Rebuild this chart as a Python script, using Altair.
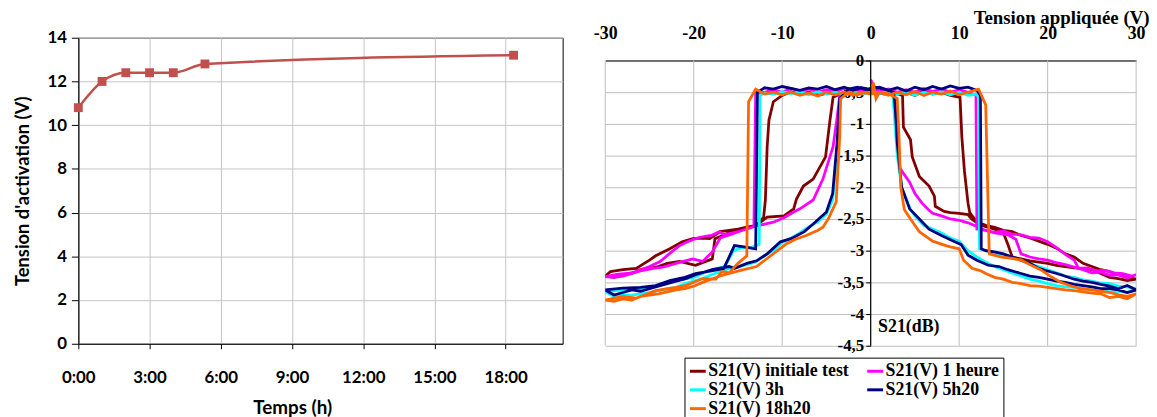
import altair as alt
import pandas as pd

# ---------------- left chart data ----------------
hours = [0, 1, 2, 3, 4, 5.333, 18.333]
vact = [10.8, 12.0, 12.4, 12.4, 12.4, 12.8, 13.2]
hour_ticks = [0, 3, 6, 9, 12, 15, 18]
volt_ticks = [0, 2, 4, 6, 8, 10, 12, 14]

# ---------------- right chart data ----------------
series_names = ["S21(V) initiale test", "S21(V) 1 heure", "S21(V) 3h", "S21(V) 5h20", "S21(V) 18h20"]
series_colors = ["#800000", "#FF00FF", "#00FFFF", "#000080", "#FF6600"]
v_ticks = [-30, -20, -10, 0, 10, 20, 30]
s_ticks = [0, -0.5, -1, -1.5, -2, -2.5, -3, -3.5, -4, -4.5]
s_range = [0, -4.5]

init_pts = [(0,-0.50),(1,-0.52),(2,-0.47),(3,-0.53),(4,-0.50),(5,-0.55),(6,-0.48),(7,-0.53),(8,-0.50),(9,-0.55),(10.1,-0.58),
(10.3,-1.20),(10.6,-1.75),(11.0,-2.25),(11.2,-2.40),(12,-2.55),(13,-2.60),(14,-2.63),(15,-2.68),(16,-2.70),(17,-2.76),(18,-2.80),(19,-2.85),(20,-2.90),(21,-2.96),(22,-3.05),(23,-3.10),(24,-3.20),(25,-3.25),(26,-3.30),(27,-3.33),(28,-3.38),(29,-3.42),(30,-3.45),
(29,-3.47),(28,-3.44),(27,-3.42),(26,-3.36),(25,-3.30),(24,-3.28),(23,-3.27),(22,-3.25),(21,-3.23),(20,-3.20),(19,-3.18),(18,-3.16),(17,-3.13),(16,-3.10),(15.5,-2.90),(15,-2.72),(14,-2.66),(13,-2.62),(12.2,-2.58),(11.4,-2.50),(11,-2.43),(10,-2.41),(9,-2.40),(8.3,-2.38),(7.3,-2.30),(7.2,-2.14),(6.6,-1.98),(5.5,-1.83),(4.7,-1.52),(4.5,-1.25),(3.7,-1.05),(3.6,-0.55),(2.5,-0.50),(1.5,-0.53),(0.5,-0.48),(0,-0.50),
(-1,-0.52),(-2,-0.50),(-3,-0.54),(-4,-0.49),(-5,-0.52),(-6,-0.55),(-7,-0.50),(-8,-0.53),(-9,-0.49),(-10,-0.55),(-11,-0.65),(-11.5,-0.94),(-11.7,-1.36),(-11.9,-2.20),(-12.1,-2.47),(-12.9,-2.60),(-14,-2.63),(-15,-2.66),(-16,-2.68),(-17,-2.70),(-18.2,-2.81),(-19,-2.80),(-20.1,-2.81),(-21.3,-2.86),(-22.7,-2.97),(-24.3,-3.08),(-25,-3.15),(-26.5,-3.28),(-28,-3.30),(-29.4,-3.33),(-30,-3.40),
(-29,-3.42),(-28,-3.38),(-27,-3.36),(-26,-3.30),(-25,-3.28),(-24,-3.25),(-23,-3.20),(-21.6,-3.17),(-19.8,-3.23),(-17.9,-3.13),(-17.6,-2.81),(-16,-2.72),(-14.5,-2.66),(-12.9,-2.60),(-11.7,-2.47),(-9.8,-2.45),(-8.7,-2.34),(-8.4,-2.19),(-7.6,-1.98),(-6.5,-1.87),(-5.1,-1.52),(-4.6,-0.94),(-4.25,-0.58),(-3,-0.50),(-2,-0.53),(-1,-0.48),(0,-0.50)]

mag_pts = [(0,-0.30),(0.5,-0.45),(1,-0.48),(2,-0.45),(3,-0.50),(4,-0.46),(5,-0.50),(6,-0.44),(7,-0.49),(8,-0.45),(9,-0.50),(10,-0.46),(11,-0.50),(11.9,-0.55),
(12,-2.66),(13,-2.68),(14,-2.71),(15,-2.69),(16,-2.74),(17,-2.75),(18,-2.79),(19,-2.80),(20,-2.86),(21,-2.95),(22,-3.06),(23,-3.15),(23.5,-3.28),(24.5,-3.27),(25.5,-3.32),(26.5,-3.31),(27.5,-3.35),(28.5,-3.36),(29.5,-3.40),(30,-3.38),
(29,-3.43),(28,-3.38),(27,-3.39),(26,-3.34),(25,-3.35),(24,-3.30),(23,-3.26),(22,-3.22),(21,-3.19),(20,-3.15),(19,-3.13),(18,-3.10),(17,-3.05),(16.4,-2.82),(15.5,-2.75),(14,-2.72),(13,-2.68),(12.2,-2.63),(11,-2.56),(10,-2.52),(9,-2.50),(8,-2.45),(7,-2.41),(6.5,-2.35),(5.8,-2.25),(5,-2.10),(4.4,-1.92),(3.3,-1.70),(3.1,-1.20),(2.9,-0.60),(2,-0.47),(1,-0.50),(0,-0.45),
(-1,-0.47),(-2,-0.50),(-3,-0.44),(-4,-0.49),(-5,-0.46),(-6,-0.50),(-7,-0.45),(-8,-0.48),(-9,-0.44),(-10,-0.50),(-11,-0.46),(-12,-0.50),(-13,-0.52),
(-13.2,-2.62),(-14.7,-2.69),(-15.6,-2.72),(-16.6,-2.75),(-17.1,-2.70),(-18,-2.76),(-19,-2.78),(-19.8,-2.81),(-20.7,-2.86),(-21.6,-2.92),(-22.5,-3.02),(-23.8,-3.17),(-25,-3.25),(-26.5,-3.33),(-27.5,-3.36),(-28.5,-3.37),(-30,-3.41),
(-29,-3.42),(-28,-3.40),(-27,-3.36),(-26,-3.32),(-24.6,-3.28),(-23.5,-3.26),(-22.7,-3.23),(-21.5,-3.18),(-20.1,-3.13),(-19,-3.17),(-17.9,-3.02),(-17,-2.80),(-16,-2.75),(-14.7,-2.69),(-12.9,-2.61),(-11,-2.55),(-9.8,-2.48),(-8.7,-2.39),(-8,-2.34),(-6.5,-2.20),(-5.4,-1.87),(-4.25,-1.36),(-3.8,-0.90),(-3.5,-0.55),(-2.5,-0.48),(-1.5,-0.50),(-0.5,-0.45),(0,-0.47)]

cyan_pts = [(0,-0.50),(1,-0.52),(2,-0.48),(3,-0.53),(4,-0.50),(5,-0.55),(6,-0.50),(7,-0.53),(8,-0.49),(9,-0.54),(10,-0.50),(11,-0.55),(12,-0.53),(12.2,-0.60),
(12.3,-2.97),(13,-3.00),(14,-3.05),(15,-3.08),(16,-3.12),(17,-3.15),(18,-3.21),(19,-3.25),(20,-3.30),(21,-3.35),(22,-3.40),(23,-3.42),(24,-3.46),(25,-3.48),(26,-3.51),(27,-3.52),(28,-3.56),(29,-3.57),(30,-3.60),
(29,-3.66),(28,-3.64),(27,-3.65),(26,-3.62),(25,-3.62),(24,-3.60),(23,-3.58),(22,-3.57),(21,-3.55),(20,-3.52),(19,-3.48),(18,-3.45),(17,-3.40),(16,-3.35),(15,-3.30),(14,-3.25),(13,-3.18),(12,-3.10),(11,-3.00),(10,-2.85),(9,-2.80),(8,-2.72),(7,-2.66),(6,-2.60),(5,-2.45),(4.5,-2.35),(3.5,-2.00),(3.0,-1.50),(2.7,-0.90),(2.5,-0.55),(1.5,-0.50),(0.5,-0.53),(0,-0.50),
(-1,-0.52),(-2,-0.50),(-3,-0.54),(-4,-0.50),(-5,-0.53),(-6,-0.49),(-7,-0.54),(-8,-0.50),(-9,-0.52),(-10,-0.49),(-11,-0.53),(-12,-0.51),(-12.5,-0.55),
(-12.6,-2.90),(-13.5,-2.95),(-14.5,-2.95),(-15.5,-3.00),(-16.5,-3.25),(-18,-3.30),(-20,-3.42),(-22,-3.47),(-24,-3.55),(-26,-3.60),(-28,-3.62),(-30,-3.65),
(-29,-3.72),(-28,-3.70),(-27,-3.70),(-26,-3.68),(-25,-3.66),(-24,-3.63),(-23,-3.60),(-22,-3.58),(-21,-3.52),(-20,-3.48),(-19,-3.44),(-18,-3.38),(-17,-3.33),(-16,-3.28),(-15,-3.25),(-14,-3.22),(-13,-3.18),(-12,-3.08),(-11,-3.00),(-10,-2.87),(-9,-2.80),(-8,-2.72),(-7,-2.62),(-6,-2.55),(-5,-2.42),(-4.3,-2.20),(-3.8,-1.50),(-3.5,-0.80),(-3.3,-0.55),(-2,-0.50),(-1,-0.53),(0,-0.50)]

navy_pts = [(0,-0.45),(1,-0.42),(2,-0.47),(3,-0.43),(4,-0.48),(5,-0.42),(6,-0.46),(7,-0.41),(8,-0.45),(9,-0.40),(10,-0.44),(11,-0.42),(12,-0.47),(12.4,-0.55),
(12.5,-2.97),(13,-3.00),(14,-3.02),(15,-3.05),(16,-3.10),(17,-3.15),(18,-3.20),(19,-3.28),(20,-3.32),(21.5,-3.38),(23,-3.45),(24,-3.48),(25,-3.50),(26,-3.53),(27,-3.56),(28,-3.60),(29,-3.55),(30,-3.62),
(29,-3.66),(28,-3.62),(27,-3.60),(26,-3.60),(25,-3.57),(24,-3.55),(23,-3.53),(22,-3.50),(21,-3.48),(20,-3.45),(19,-3.42),(18,-3.40),(17,-3.36),(15.5,-3.30),(14.5,-3.25),(13.3,-3.23),(12,-3.15),(11,-3.07),(10.2,-2.90),(9.5,-2.86),(8,-2.76),(6.6,-2.66),(5.5,-2.50),(4.4,-2.34),(3.5,-2.00),(3.0,-1.30),(2.8,-0.80),(2.6,-0.50),(1.5,-0.45),(0.5,-0.42),(0,-0.46),
(-1,-0.43),(-2,-0.47),(-3,-0.42),(-4,-0.46),(-5,-0.41),(-6,-0.45),(-7,-0.43),(-8,-0.47),(-9,-0.44),(-10,-0.41),(-11,-0.45),(-12,-0.43),(-12.8,-0.50),
(-13,-2.97),(-14.3,-2.94),(-15.4,-2.92),(-16.6,-3.28),(-18,-3.32),(-19.8,-3.36),(-21,-3.42),(-22.7,-3.47),(-24.3,-3.55),(-26,-3.58),(-28,-3.59),(-30,-3.62),
(-29,-3.70),(-28,-3.66),(-27,-3.62),(-26,-3.64),(-25,-3.60),(-24,-3.56),(-23,-3.52),(-22,-3.48),(-20.9,-3.44),(-19.8,-3.38),(-17.9,-3.30),(-16,-3.25),(-15.4,-3.28),(-14,-3.20),(-12.9,-3.16),(-11.7,-3.05),(-10.2,-2.86),(-9,-2.81),(-7.5,-2.70),(-6.5,-2.58),(-5,-2.39),(-4.3,-2.10),(-3.8,-1.30),(-3.5,-0.60),(-2.5,-0.45),(-1.5,-0.42),(-0.5,-0.46),(0,-0.44)]

orange_pts = [(0,-0.52),(0.3,-0.35),(0.6,-0.60),(1,-0.50),(2,-0.55),(3,-0.50),(4,-0.54),(5,-0.49),(6,-0.55),(7,-0.50),(8,-0.53),(9,-0.48),(10,-0.54),(11,-0.50),(12.2,-0.45),(13,-0.70),
(13.4,-3.05),(14.8,-3.10),(16,-3.12),(17,-3.15),(18,-3.22),(19.2,-3.30),(20.5,-3.42),(21.5,-3.50),(22.5,-3.55),(23.7,-3.60),(25,-3.62),(26,-3.64),(27,-3.66),(28.2,-3.70),(29,-3.72),(30,-3.68),
(29,-3.76),(28,-3.72),(27,-3.74),(26,-3.68),(25,-3.67),(24,-3.65),(23,-3.63),(22,-3.62),(21,-3.60),(20,-3.58),(19,-3.56),(18,-3.55),(17,-3.52),(16,-3.50),(15,-3.45),(14,-3.42),(13,-3.36),(12.5,-3.32),(11.5,-3.28),(10.5,-3.15),(10,-2.97),(9,-2.94),(8.5,-2.92),(7,-2.85),(6,-2.75),(5.5,-2.70),(4.5,-2.50),(3.8,-2.35),(3.4,-2.00),(3.2,-1.20),(3.0,-0.60),(2,-0.52),(1,-0.50),(0,-0.53),
(-1,-0.50),(-2,-0.55),(-3,-0.50),(-4,-0.54),(-5,-0.50),(-6,-0.56),(-7,-0.51),(-8,-0.55),(-9,-0.50),(-10,-0.54),(-11,-0.50),(-12,-0.53),(-13,-0.45),(-13.8,-0.65),
(-14,-3.08),(-15,-3.20),(-16,-3.35),(-16.8,-3.33),(-17.5,-3.45),(-19,-3.44),(-20.9,-3.55),(-22,-3.58),(-24.3,-3.63),(-26.5,-3.75),(-28,-3.72),(-30,-3.78),
(-29,-3.80),(-28,-3.76),(-27,-3.78),(-26,-3.72),(-25,-3.70),(-24,-3.68),(-23,-3.65),(-22,-3.62),(-21,-3.60),(-20,-3.56),(-19,-3.50),(-18,-3.45),(-17,-3.40),(-16,-3.36),(-14.7,-3.31),(-12.9,-3.25),(-11.3,-3.08),(-9.5,-2.89),(-8.5,-2.82),(-7.3,-2.76),(-6,-2.68),(-5.4,-2.63),(-4.8,-2.50),(-3.9,-2.23),(-3.5,-1.20),(-3.4,-0.60),(-2.5,-0.50),(-1.5,-0.54),(-0.5,-0.50),(0,-0.52)]

all_pts = [init_pts, mag_pts, cyan_pts, navy_pts, orange_pts]

SANS = "Lato"
SERIF = "Liberation Serif"

# ---------------- left chart ----------------
left_df = pd.DataFrame({"t": hours, "v": vact})
lx = alt.X("t:Q", scale=alt.Scale(domain=[0, 20.4], nice=False, zero=False),
           axis=alt.Axis(values=hour_ticks, labelExpr="datum.value + ':00'", title="Temps (h)",
                         labelFlush=False, grid=True, gridColor="#c4c4c4", domainColor="black",
                         tickColor="black", tickSize=5, labelPadding=21, labelFont=SANS,
                         labelFontSize=17, labelFontWeight="bold", labelColor="black",
                         titleFont=SANS, titleFontSize=19, titleFontWeight="bold",
                         titleColor="black", titlePadding=13, titleX=216))
ly = alt.Y("v:Q", scale=alt.Scale(domain=[0, 14], nice=False),
           axis=alt.Axis(values=volt_ticks, title="Tension d'activation (V)",
                         labelFlush=False, grid=True, gridColor="#c4c4c4", domainColor="black",
                         tickColor="black", tickSize=7, labelPadding=5, labelFont=SANS,
                         labelFontSize=17, labelFontWeight="bold", labelColor="black",
                         titleFont=SANS, titleFontSize=18.5, titleFontWeight="bold",
                         titleColor="black", titlePadding=15))
lbase = alt.Chart(left_df).encode(x=lx, y=ly)
left = alt.layer(
    lbase.mark_line(color="#C0504D", strokeWidth=2.5, interpolate="monotone"),
    lbase.mark_square(color="#C0504D", size=80, opacity=1),
).properties(
    width=489, height=309,
    view=alt.ViewBackground(stroke="black", strokeWidth=1),
)

# ---------------- right chart ----------------
rows = []
for name, pts in zip(series_names, all_pts):
    for i, (v, s) in enumerate(pts):
        rows.append({"serie": name, "V": v, "S": s, "i": i})
rdf = pd.DataFrame(rows)

xscale = alt.Scale(domain=[-30, 30], nice=False)
yscale = alt.Scale(domain=[-4.5, 0.36], nice=False, zero=False)
xaxis = alt.Axis(orient="top", values=v_ticks, offset=-23, labelFlush=False,
                 labelExpr="datum.value < 0 ? '-' + abs(datum.value) : '' + datum.value",
                 grid=False, ticks=False, labelPadding=18,
                 domainColor="black", labelFont=SERIF, labelFontSize=18,
                 labelFontWeight="bold", labelColor="black",
                 title="Tension appliquée (V)", titleFont=SERIF, titleFontSize=19,
                 titleFontWeight="bold", titleColor="black", titleX=549, titleY=-37,
                 titleAlign="right", titleBaseline="alphabetic")
yaxis = alt.Axis(values=s_ticks, offset=-268, domain=False, labelFlush=False,
                 labelExpr="datum.value == 0 ? '0' : '-' + replace(format(abs(datum.value), '~g'), '.', ',')",
                 grid=True, gridColor="#bdbdbd", tickColor="black",
                 tickSize=5, labelPadding=2, labelFont=SERIF, labelFontSize=17,
                 labelFontWeight="bold", labelColor="black",
                 title="S21(dB)", titleFont=SERIF, titleFontSize=18, titleFontWeight="bold",
                 titleColor="black", titleAngle=0, titleX=7, titleY=297,
                 titleAlign="left", titleBaseline="alphabetic")

rx = alt.X("V:Q", scale=xscale, axis=xaxis)
ry = alt.Y("S:Q", scale=yscale, axis=yaxis)
rcolor = alt.Color("serie:N", scale=alt.Scale(domain=series_names, range=series_colors),
                   legend=alt.Legend(title=None, orient="none", legendX=80, legendY=323,
                                     direction="horizontal", columns=2, columnPadding=12,
                                     rowPadding=-3, symbolType="stroke", symbolStrokeWidth=3,
                                     symbolSize=256, labelFont=SERIF, labelFontSize=18,
                                     labelFontWeight="bold", labelColor="black", labelOffset=1,
                                     strokeColor="black", fillColor="white", padding=4))

# vertical grid lines and the y axis line, limited to the data frame (0 .. -4.5)
vgrid_df = pd.DataFrame({"V": v_ticks, "top": s_range[0], "bottom": s_range[1]})
vgrid = alt.Chart(vgrid_df).mark_rule(color="#bdbdbd", strokeWidth=1).encode(
    x=rx, y=alt.Y("top:Q", scale=yscale, axis=yaxis), y2="bottom:Q")
zero_df = pd.DataFrame({"V": [0], "top": [s_range[0]], "bottom": [s_range[1]]})
zline = alt.Chart(zero_df).mark_rule(color="black", strokeWidth=1.2).encode(
    x=rx, y=alt.Y("top:Q", scale=yscale, axis=yaxis), y2="bottom:Q")

rlayers = [vgrid]
for name in series_names:
    rlayers.append(
        alt.Chart(rdf[rdf["serie"] == name]).mark_line(strokeWidth=2.8, clip=True).encode(
            x=rx, y=ry, color=rcolor, order=alt.Order("i:Q")
        )
    )
right = alt.layer(*rlayers, zline).properties(
    width=536, height=311,
    view=alt.ViewBackground(stroke=None),
)

chart = alt.hconcat(left, right, spacing=30).resolve_legend(color="independent").properties(
    padding={"left": 4, "top": -1, "right": 0, "bottom": 0},
    background="white",
)

chart.save("out.html", embed_options={"renderer": "svg", "actions": False})
